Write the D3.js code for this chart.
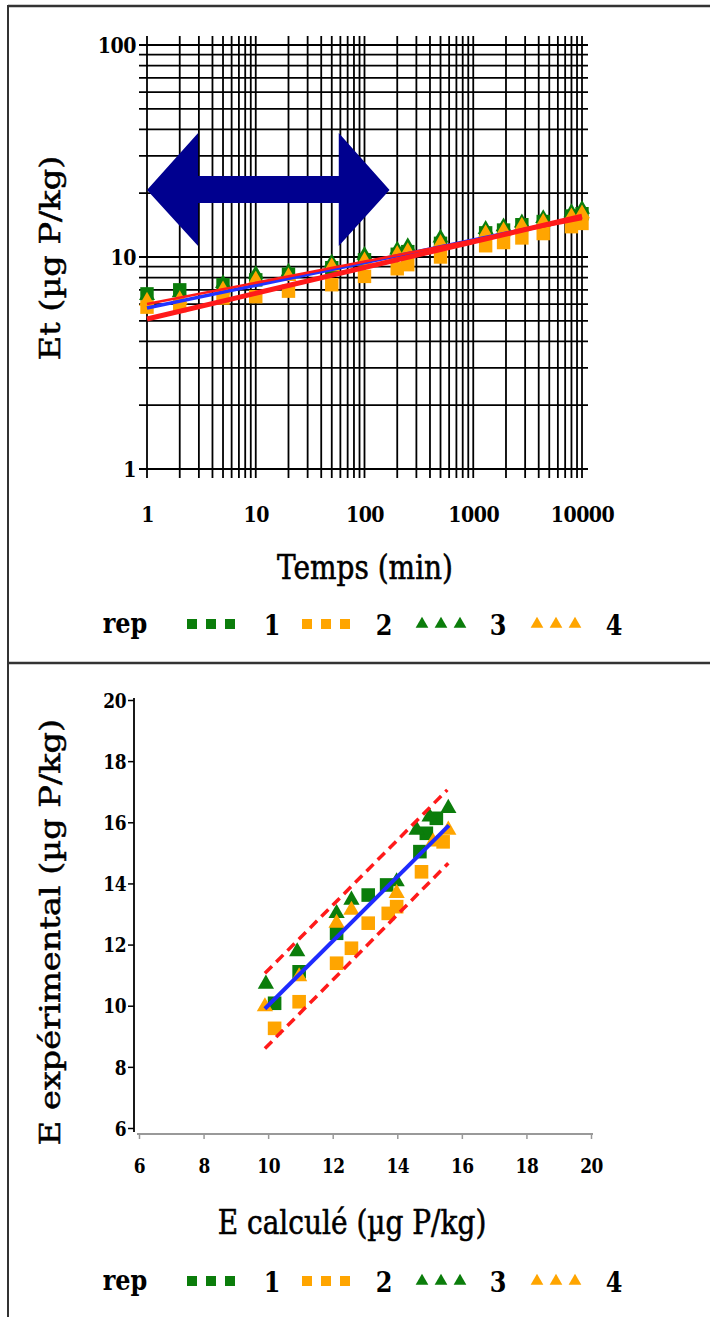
<!DOCTYPE html>
<html>
<head>
<meta charset="utf-8">
<script src="https://cdnjs.cloudflare.com/ajax/libs/d3/7.8.5/d3.min.js"></script>
<style>
	body { margin: 0; background: #fff; }
	svg { display: block; }
	text { font-family: 'DejaVu Serif', serif; fill: #000; }
</style>
</head>
<body>
<div id="chart"></div>
<script>
var width = 710,
	height = 1317;
// the picture is a bit stretched vertically, text follows
var stretch = 1.2;

var reps = ['1', '2', '3', '4'];
var repColor = ['#0b7d0b', '#ffa500', '#0b7d0b', '#ffa500'];
var repShape = ['square', 'square', 'triangle', 'triangle'];

// panneau 1 : Et en fonction du temps
var temps = [1, 2, 5, 10, 20, 50, 100, 200, 250, 500, 1300, 1900, 2800, 4400, 8000, 10000];
var et_rep1 = [6.7, 7.0, 7.4, 7.8, 8.3, 8.9, 9.7, 10.3, 10.6, 11.6, 13.0, 13.4, 14.2, 14.7, 15.6, 16.0];
var et_rep2 = [5.8, 5.9, 6.4, 6.5, 6.9, 7.4, 8.1, 8.8, 9.2, 10.0, 11.3, 11.7, 12.3, 12.9, 13.9, 14.4];
var et_rep3 = [6.6, 6.8, 7.5, 8.3, 8.5, 9.4, 10.2, 10.8, 11.2, 12.3, 13.5, 13.9, 14.5, 15.2, 16.2, 16.8];
var et_rep4 = [6.2, 6.3, 7.0, 7.8, 8.1, 9.0, 9.6, 10.3, 10.6, 11.6, 12.9, 13.3, 14.0, 14.6, 15.5, 16.0];
var ajustBleu = [[1, 5.75], [10000, 15.4]];
var ajustRouge = [[1, 5.1], [10000, 15.6]];
var ajustRouge2 = [[1, 6.0], [10000, 15.1]];
var tempsTicks = [1, 10, 100, 1000, 10000];
var etTicks = [1, 10, 100];
// fleche : de 1 a 170 min, vers 20.7
var flecheX = [1, 2.95, 58, 170];
var flecheY = 20.7;

// panneau 2 : E experimental vs E calcule
var calc_rep1 = [10.2, 10.96, 12.12, 13.1, 13.67, 14.7, 14.9, 15.21];
var exp_rep1 = [10.08, 11.11, 12.37, 13.62, 13.95, 15.04, 15.64, 16.13];
var calc_rep2 = [10.2, 10.96, 12.12, 12.58, 13.1, 13.72, 13.98, 14.75, 15.42];
var exp_rep2 = [9.26, 10.13, 11.39, 11.88, 12.7, 13.02, 13.24, 14.38, 15.36];
var calc_rep3 = [9.93, 10.9, 12.12, 12.58, 13.98, 14.6, 15.0, 15.58];
var exp_rep3 = [10.71, 11.77, 13.02, 13.46, 14.06, 15.75, 16.18, 16.46];
var calc_rep4 = [9.9, 10.96, 12.12, 12.58, 13.98, 15.11, 15.58];
var exp_rep4 = [9.97, 10.95, 12.7, 13.13, 13.68, 15.36, 15.75];
var droite = [[9.9, 9.9], [15.6, 15.9]];
var bandeHaut = [[9.9, 11.06], [15.55, 17.06]];
var bandeBas = [[9.9, 8.6], [15.58, 14.66]];
var eTicks = [6, 8, 10, 12, 14, 16, 18, 20];

var svg = d3.select('#chart').append('svg')
	.attr('width', width)
	.attr('height', height);

function symbolPath(shape, size) {
	return d3.symbol()
		.type(shape == 'square' ? d3.symbolSquare : d3.symbolTriangle)
		.size(size)();
}

function stretchedText(g, x, y, txt, size, weight) {
	return g.append('text')
		.attr('transform', 'translate(' + x + ',' + y + ') scale(1,' + stretch + ')')
		.attr('text-anchor', 'middle')
		.attr('dy', '0.35em')
		.style('font-size', size + 'px')
		.style('font-weight', weight || 'normal')
		.style('stroke', '#000')
		.style('stroke-width', weight ? 0 : 0.5)
		.text(txt);
}

function verticalTitle(g, x, y, txt, size) {
	g.append('text')
		.attr('transform', 'translate(' + x + ',' + y + ') rotate(-90) scale(' + stretch + ',1)')
		.attr('text-anchor', 'middle')
		.attr('dy', '0.35em')
		.style('font-size', size + 'px')
		.style('stroke', '#000')
		.style('stroke-width', 0.5)
		.text(txt);
}

function styleTicks(axisG, size, dx, dy) {
	axisG.selectAll('.tick text')
		.attr('x', null)
		.attr('y', null)
		.attr('dy', '0.35em')
		.attr('transform', 'translate(' + dx + ',' + dy + ') scale(1,' + stretch + ')')
		.style('font-family', "'DejaVu Serif', serif")
		.style('font-weight', 'bold')
		.style('font-size', size + 'px')
		.style('letter-spacing', '-0.5px');
}

function drawLegend(y) {
	let g = svg.append('g');
	stretchedText(g, 125, y, 'rep', 24, 'bold');
	let startX = [192, 307, 422, 537];
	let labelX = [272, 384, 498, 614];
	for (let i = 0; i < reps.length; ++i) {
		for (let k = 0; k < 3; ++k) {
			g.append('path')
				.attr('transform', 'translate(' + (startX[i] + k * 19) + ',' + (y + 1) + ')')
				.attr('d', symbolPath(repShape[i], repShape[i] == 'square' ? 100 : 70))
				.attr('fill', repColor[i]);
		}
		stretchedText(g, labelX[i], y + 2, reps[i], 24, 'bold');
	}
}

function drawMarkers(g, xs, ys, i, size, xScale, yScale) {
	let pts = xs.map((d, j) => [d, ys[j]]);
	g.selectAll('.rep' + i)
		.data(pts)
		.enter()
		.append('path')
		.attr('class', 'rep' + i)
		.attr('transform', d => 'translate(' + xScale(d[0]) + ',' + yScale(d[1]) + ')')
		.attr('d', symbolPath(repShape[i], repShape[i] == 'square' ? size : size * 0.62))
		.attr('fill', repColor[i]);
}

function drawFrame() {
	svg.append('line').attr('x1', 8).attr('x2', width).attr('y1', 6).attr('y2', 6)
		.attr('stroke', '#333').attr('stroke-width', 2.5);
	svg.append('line').attr('x1', 8).attr('x2', 8).attr('y1', 5).attr('y2', height)
		.attr('stroke', '#333').attr('stroke-width', 2);
	svg.append('line').attr('x1', 8).attr('x2', width).attr('y1', 663).attr('y2', 663)
		.attr('stroke', '#333').attr('stroke-width', 2.5);
}

function drawTemps() {
	let xScale = d3.scaleLog().domain([1, 10000]).range([147, 582]);
	let yScale = d3.scaleLog().domain([1, 100]).range([469, 45]);
	let g = svg.append('g');

	// grille log
	g.selectAll('.vgrid')
		.data(xScale.ticks())
		.enter()
		.append('line')
		.attr('x1', d => xScale(d)).attr('x2', d => xScale(d))
		.attr('y1', 36).attr('y2', 478)
		.attr('stroke', '#000').attr('stroke-width', 1.8);
	g.selectAll('.hgrid')
		.data(yScale.ticks())
		.enter()
		.append('line')
		.attr('x1', 139).attr('x2', 588)
		.attr('y1', d => yScale(d)).attr('y2', d => yScale(d))
		.attr('stroke', '#000').attr('stroke-width', 1.8);

	let xAxis = g.append('g')
		.attr('transform', 'translate(0,469)')
		.call(d3.axisBottom(xScale).tickValues(tempsTicks).tickFormat(d3.format('d')).tickSize(0));
	xAxis.select('.domain').remove();
	styleTicks(xAxis, 19, 0, 45);

	let yAxis = g.append('g')
		.attr('transform', 'translate(147,0)')
		.call(d3.axisLeft(yScale).tickValues(etTicks).tickFormat(d3.format('d')).tickSize(0));
	yAxis.select('.domain').remove();
	yAxis.selectAll('.tick text').attr('text-anchor', 'end');
	styleTicks(yAxis, 19, -11, 0);

	// fleche bleue
	let fx = flecheX.map(d => xScale(d)),
		fy = yScale(flecheY);
	let pts = [[fx[0], fy], [fx[1], fy - 57], [fx[1], fy - 14], [fx[2], fy - 14], [fx[2], fy - 57], [fx[3], fy],
		[fx[2], fy + 56], [fx[2], fy + 13], [fx[1], fy + 13], [fx[1], fy + 56]];
	g.append('polygon')
		.attr('points', pts.map(p => p.join(',')).join(' '))
		.attr('fill', '#00008f');

	let series = [et_rep1, et_rep2, et_rep3, et_rep4];
	for (let i = 0; i < series.length; ++i) {
		drawMarkers(g, temps, series[i], i, 180, xScale, yScale);
	}

	let line = d3.line()
		.x(d => xScale(d[0]))
		.y(d => yScale(d[1]));
	g.append('path').attr('d', line(ajustBleu)).attr('fill', 'none')
		.attr('stroke', '#2233ff').attr('stroke-width', 3.5);
	g.append('path').attr('d', line(ajustRouge2)).attr('fill', 'none')
		.attr('stroke', '#ff1a1a').attr('stroke-width', 2.5);
	g.append('path').attr('d', line(ajustRouge)).attr('fill', 'none')
		.attr('stroke', '#ff1a1a').attr('stroke-width', 5);

	stretchedText(g, 365, 567, 'Temps (min)', 28);
	verticalTitle(g, 50, 258, 'Et (µg P/kg)', 28);
	drawLegend(623);
}

function drawCalcule() {
	let xScale = d3.scaleLinear().domain([6, 20]).range([139, 591]);
	let yScale = d3.scaleLinear().domain([6, 20]).range([1128, 700]);
	let g = svg.append('g');

	let xAxis = g.append('g')
		.attr('transform', 'translate(0,1134)')
		.call(d3.axisBottom(xScale).tickValues(eTicks).tickSize(5).tickSizeOuter(0));
	xAxis.select('.domain').attr('stroke', '#999').attr('stroke-width', 2)
		.attr('d', 'M137,0H593');
	xAxis.selectAll('.tick line').attr('stroke', '#999').attr('stroke-width', 1.5);
	styleTicks(xAxis, 17, 0, 32);

	let yAxis = g.append('g')
		.attr('transform', 'translate(134,0)')
		.call(d3.axisLeft(yScale).tickValues(eTicks).tickSize(6).tickSizeOuter(0));
	yAxis.select('.domain').attr('stroke', '#000').attr('stroke-width', 1.8)
		.attr('d', 'M0,698V1132');
	yAxis.selectAll('.tick line').attr('stroke', '#000').attr('stroke-width', 1.5);
	yAxis.selectAll('.tick text').attr('text-anchor', 'end');
	styleTicks(yAxis, 17, -8, 0);

	let calc = [calc_rep1, calc_rep2, calc_rep3, calc_rep4];
	let exp = [exp_rep1, exp_rep2, exp_rep3, exp_rep4];
	for (let i = 0; i < calc.length; ++i) {
		drawMarkers(g, calc[i], exp[i], i, 185, xScale, yScale);
	}

	let line = d3.line()
		.x(d => xScale(d[0]))
		.y(d => yScale(d[1]));
	g.append('path').attr('d', line(droite)).attr('fill', 'none')
		.attr('stroke', '#1f2bff').attr('stroke-width', 4);
	[bandeHaut, bandeBas].forEach(b => {
		g.append('path').attr('d', line(b)).attr('fill', 'none')
			.attr('stroke', '#ff1a1a').attr('stroke-width', 3.5)
			.attr('stroke-dasharray', '10,6');
	});

	stretchedText(g, 352, 1222, 'E calculé (µg P/kg)', 28);
	verticalTitle(g, 50, 932, 'E expérimental (µg P/kg)', 28);
	drawLegend(1280);
}

drawFrame();
drawTemps();
drawCalcule();
</script>
</body>
</html>
